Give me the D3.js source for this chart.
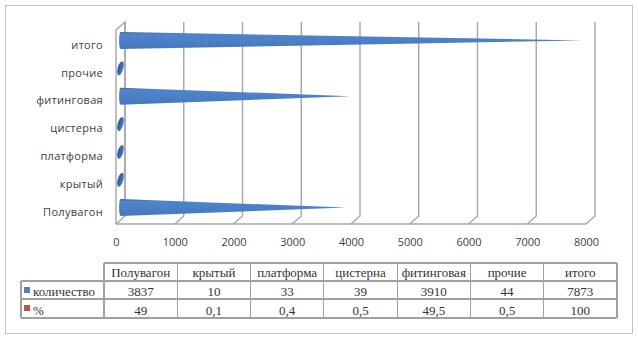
<!DOCTYPE html>
<html>
<head>
<meta charset="utf-8">
<script src="https://cdn.jsdelivr.net/npm/d3@7"></script>
<style>
  html, body { margin: 0; padding: 0; background: #fff; }
  svg { display: block; }
</style>
</head>
<body>
<svg id="chart" width="638" height="339"></svg>
<script>
// Wagon types and their counts / shares
const categories = ["Полувагон", "крытый", "платформа", "цистерна", "фитинговая", "прочие", "итого"];
const counts = [3837, 10, 33, 39, 3910, 44, 7873];
const percents = ["49", "0,1", "0,4", "0,5", "49,5", "0,5", "100"];
const seriesNames = ["количество", "%"];
const seriesColors = ["#4f81bd", "#c0504d"];
const xTicks = [0, 1000, 2000, 3000, 4000, 5000, 6000, 7000, 8000];

const svg = d3.select("#chart");

// 3D depth offset of the back wall relative to the front plane
const depthX = 9, depthY = -8;

const x = d3.scaleLinear().domain([0, 8000]).range([116, 586]);
const y = d3.scaleBand().domain(categories.slice().reverse()).range([31, 226]);

// outer frame
svg.append("rect")
  .attr("x", 5.5).attr("y", 5.5).attr("width", 627).attr("height", 328)
  .attr("fill", "#fff").attr("stroke", "#c4c4c4").attr("stroke-width", 1);

const defs = svg.append("defs");
const bodyGrad = defs.append("linearGradient").attr("id", "coneBody")
  .attr("x1", 0).attr("y1", 0).attr("x2", 0).attr("y2", 1);
bodyGrad.append("stop").attr("offset", "0%").attr("stop-color", "#34619e");
bodyGrad.append("stop").attr("offset", "12%").attr("stop-color", "#4f84cc");
bodyGrad.append("stop").attr("offset", "55%").attr("stop-color", "#4b7fc6");
bodyGrad.append("stop").attr("offset", "100%").attr("stop-color", "#4677bb");

const baseGrad = defs.append("linearGradient").attr("id", "coneBase")
  .attr("x1", 0).attr("y1", 0).attr("x2", 1).attr("y2", 0);
baseGrad.append("stop").attr("offset", "0%").attr("stop-color", "#2b5895");
baseGrad.append("stop").attr("offset", "100%").attr("stop-color", "#4b7ec2");

// walls and gridlines
const grid = svg.append("g").attr("stroke", "#a6a6a6").attr("stroke-width", 1.4).attr("fill", "none");
const yTopFront = y.range()[0] - 1, yBotFront = y.range()[1] - 2;

// left wall
grid.append("path").attr("d",
  `M${x(0)},${yBotFront} L${x(0)},${yTopFront} L${x(0) + depthX},${yTopFront + depthY} L${x(0) + depthX},${yBotFront + depthY}`);

// back-wall verticals plus floor lines toward the front
xTicks.forEach(t => {
  const bx = x(t) + depthX;
  grid.append("path").attr("d",
    `M${bx},${yTopFront + depthY} L${bx},${yBotFront + depthY} L${x(t)},${yBotFront}`);
});
// front edge of the floor
grid.append("line")
  .attr("x1", x(0)).attr("x2", x(8000)).attr("y1", yBotFront).attr("y2", yBotFront);

// value axis labels
const axis = d3.axisBottom(x).tickValues(xTicks).tickSize(0).tickPadding(0).tickFormat(d3.format("d"));
const axisG = svg.append("g").attr("transform", `translate(0,${238})`).call(axis);
axisG.select(".domain").remove();
axisG.selectAll("text")
  .attr("font-family", "'Open Sans', sans-serif").attr("font-size", 11).attr("fill", "#404040");

// category labels
svg.append("g").selectAll("text").data(categories).join("text")
  .attr("x", 103)
  .attr("y", d => y(d) + y.bandwidth() / 2)
  .attr("dy", "0.35em")
  .attr("text-anchor", "end")
  .attr("font-family", "'Open Sans', sans-serif").attr("font-size", 11).attr("fill", "#404040")
  .attr("letter-spacing", 0.3)
  .text(d => d);

// cones
const cones = svg.append("g");
const r = 8.5;
categories.forEach((c, i) => {
  const cy = y(c) + y.bandwidth() / 2 - 4.5;
  const bx = x(0) + depthX / 2;
  const tip = x(counts[i]) + depthX / 2;
  if (tip - bx > 3) {
    cones.append("path")
      .attr("d", `M${bx},${cy - r} L${tip},${cy} L${bx},${cy + r} A1.4,${r} 0 0 1 ${bx},${cy - r} Z`)
      .attr("fill", "url(#coneBody)");
  } else {
    // short cone: only its base face shows
    cones.append("ellipse")
      .attr("cx", bx).attr("cy", cy).attr("rx", 2.8).attr("ry", 7.2)
      .attr("transform", `rotate(16,${bx},${cy})`)
      .attr("fill", "url(#coneBase)");
  }
});

// data table
const tbl = svg.append("g");
const colX = d3.range(categories.length + 1).map(i => 104 + i * (617 - 104) / categories.length);
const rowY = [263, 281, 299, 318];
const legendLeft = 21;
const lineColor = "#a0a0a0";

// horizontal rules
tbl.append("line").attr("x1", colX[0]).attr("x2", colX[7]).attr("y1", rowY[0]).attr("y2", rowY[0]);
[1, 2, 3].forEach(k => {
  tbl.append("line").attr("x1", legendLeft).attr("x2", colX[7]).attr("y1", rowY[k]).attr("y2", rowY[k]);
});
// vertical rules
colX.forEach(cx => {
  tbl.append("line").attr("x1", cx).attr("x2", cx).attr("y1", rowY[0]).attr("y2", rowY[3]);
});
tbl.append("line").attr("x1", legendLeft).attr("x2", legendLeft).attr("y1", rowY[1]).attr("y2", rowY[3]);
tbl.selectAll("line").attr("stroke", lineColor).attr("stroke-width", 1.2).attr("shape-rendering", "crispEdges");

const serif = "'Liberation Serif', 'Times New Roman', serif";
const cellText = (txt, cx, baseline) => tbl.append("text")
  .attr("x", cx).attr("y", baseline).attr("text-anchor", "middle")
  .attr("font-family", serif).attr("font-size", 13).attr("fill", "#333")
  .text(txt);

categories.forEach((c, i) => {
  const cx = (colX[i] + colX[i + 1]) / 2;
  cellText(c, cx, rowY[1] - 4);
  cellText(counts[i], cx, rowY[2] - 3);
  cellText(percents[i], cx, rowY[3] - 3);
});

// legend keys inside the table
seriesNames.forEach((s, k) => {
  const top = rowY[k + 1];
  tbl.append("rect").attr("x", 24).attr("y", top + 6).attr("width", 6).attr("height", 6)
    .attr("fill", seriesColors[k]);
  tbl.append("text").attr("x", 33).attr("y", rowY[k + 2] - 3)
    .attr("font-family", serif).attr("font-size", 13).attr("fill", "#333")
    .text(s);
});
</script>
</body>
</html>
